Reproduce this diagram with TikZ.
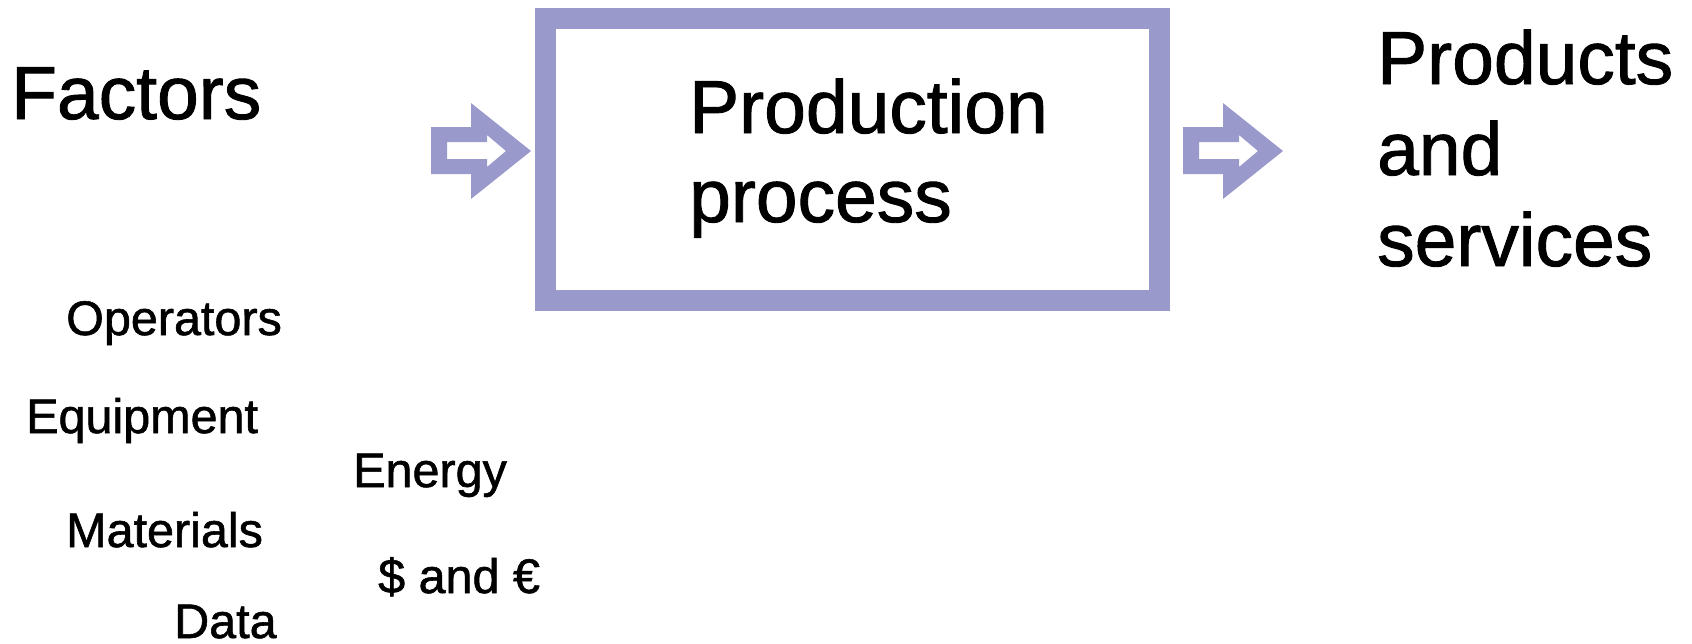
\documentclass[tikz,border=0pt]{standalone}
\usepackage{fontspec}
\setmainfont[FakeBold=1.2,AutoFakeBold=1.2]{Liberation Sans}
\definecolor{procblue}{RGB}{153,153,204}
\tikzset{
  big/.style={anchor=base west, inner sep=0pt, font=\fontsize{75}{90}\selectfont\bfseries},
  small/.style={anchor=base west, inner sep=0pt, font=\fontsize{48.5}{58}\selectfont\bfseries},
  procbox/.style={draw=procblue, line width=21pt, minimum width=613.5pt, minimum height=282.5pt, inner sep=0pt},
  blockarrow/.style={fill=procblue, draw=none, even odd rule}
}
\begin{document}
\begin{tikzpicture}[x=1pt,y=-1pt]
\useasboundingbox (0,0) rectangle (1692,643);

% production box
\node[procbox] (proc) at (852.25,159.25) {};
\node[big] (prodA) at (689,133) {Production};
\node[big] (prodB) at (689,222) {process};

% inputs
\node[big] (factors) at (11,119) {Factors};
\node[small] (operators) at (66,335) {Operators};
\node[small] (equipment) at (26,433) {Equipment};
\node[small] (energy) at (353,487) {Energy};
\node[small] (materials) at (66,547) {Materials};
\node[small] (money) at (378,593) {\$ and €};
\node[small] (data) at (174,638) {Data};

% outputs
\node[big] (outA) at (1377,84) {Products};
\node[big] (outB) at (1377,175) {and};
\node[big] (outC) at (1377,266) {services};

% hollow block arrows
\foreach \dx/\nm in {0/inarrow, 752/outarrow}{
  \begin{scope}[xshift=\dx pt]
    \path[blockarrow]
      (431,127) -- (471,127) -- (471,103) -- (531,151) -- (471,199) -- (471,174) -- (431,174) -- cycle
      (447,142) -- (487,142) -- (487,135) -- (506,151) -- (487,167) -- (487,159) -- (447,159) -- cycle;
    \coordinate (\nm) at (481,151);
  \end{scope}
}
\end{tikzpicture}
\end{document}
